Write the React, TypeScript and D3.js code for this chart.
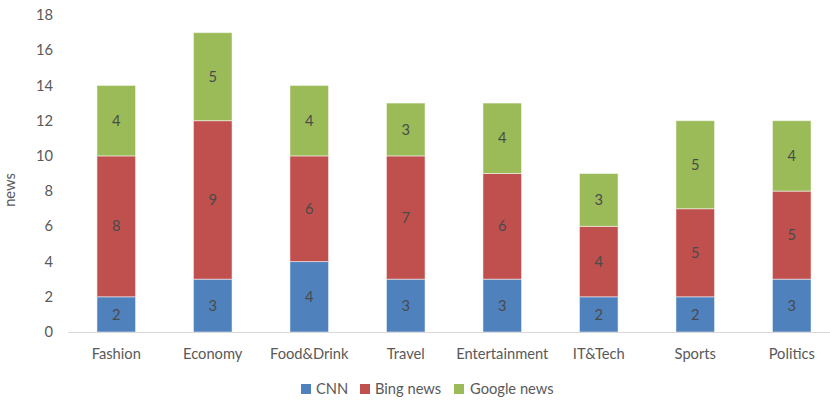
import React from "react";
import * as d3 from "d3";

const categories = ["Fashion", "Economy", "Food&Drink", "Travel", "Entertainment", "IT&Tech", "Sports", "Politics"];
const cnn = [2, 3, 4, 3, 3, 2, 2, 3];
const bing = [8, 9, 6, 7, 6, 4, 5, 5];
const google = [4, 5, 4, 3, 4, 3, 5, 4];
const seriesNames = ["CNN", "Bing news", "Google news"];
const seriesColors = ["#4F81BD", "#C0504D", "#9BBB59"];
const yTicks = [0, 2, 4, 6, 8, 10, 12, 14, 16, 18];

const W = 830;
const H = 401;
const FONT = "Lato, 'Open Sans', sans-serif";
const FS = 14.7;

export default function App() {
  const x = d3.scaleBand<string>().domain(categories).range([68, 840]).paddingInner(0.6).paddingOuter(0.3);
  const y = d3.scaleLinear().domain([0, 18]).range([332, 15]);

  const rows = categories.map((c, i) => ({ cat: c, CNN: cnn[i], "Bing news": bing[i], "Google news": google[i] }));
  const stacked = d3.stack<any>().keys(seriesNames)(rows);

  const legendItems = [
    { name: "CNN", sx: 301, tx: 316 },
    { name: "Bing news", sx: 360, tx: 375 },
    { name: "Google news", sx: 454, tx: 470 },
  ];

  return (
    <svg width={W} height={H} style={{ position: "absolute", left: 0, top: 0 }} fontFamily={FONT}>
      <rect width={W} height={H} fill="#ffffff" />
      {yTicks.map((t) => (
        <text key={t} x={53} y={y(t)} dy="0.35em" textAnchor="end" fontSize={FS} fill="#595959">
          {t}
        </text>
      ))}
      <text transform={`translate(15,190) rotate(-90)`} textAnchor="middle" fontSize={FS} fill="#595959">
        news
      </text>
      {stacked.map((s, si) => (
        <g key={s.key}>
          {s.map((d, i) => {
            const x0 = x(categories[i])!;
            const y0 = y(d[1]);
            const h = y(d[0]) - y(d[1]);
            return (
              <g key={i}>
                <rect x={x0} y={y0} width={x.bandwidth()} height={h} fill={seriesColors[si]} stroke="#ffffff" strokeOpacity={0.5} strokeWidth={1} />
                <text x={x0 + x.bandwidth() / 2} y={y0 + h / 2} dy="0.35em" textAnchor="middle" fontSize={FS} fill="#4a4a4a">
                  {d[1] - d[0]}
                </text>
              </g>
            );
          })}
        </g>
      ))}
      <line x1={68} x2={840} y1={332.5} y2={332.5} stroke="#D9D9D9" strokeWidth={1} />
      {categories.map((c) => (
        <text key={c} x={x(c)! + x.bandwidth() / 2} y={354} dy="0.35em" textAnchor="middle" fontSize={FS} fill="#595959">
          {c}
        </text>
      ))}
      {legendItems.map((l, i) => (
        <g key={l.name}>
          <rect x={l.sx} y={384} width={10} height={10} fill={seriesColors[i]} />
          <text x={l.tx} y={389} dy="0.35em" fontSize={FS} fill="#595959">
            {l.name}
          </text>
        </g>
      ))}
    </svg>
  );
}
